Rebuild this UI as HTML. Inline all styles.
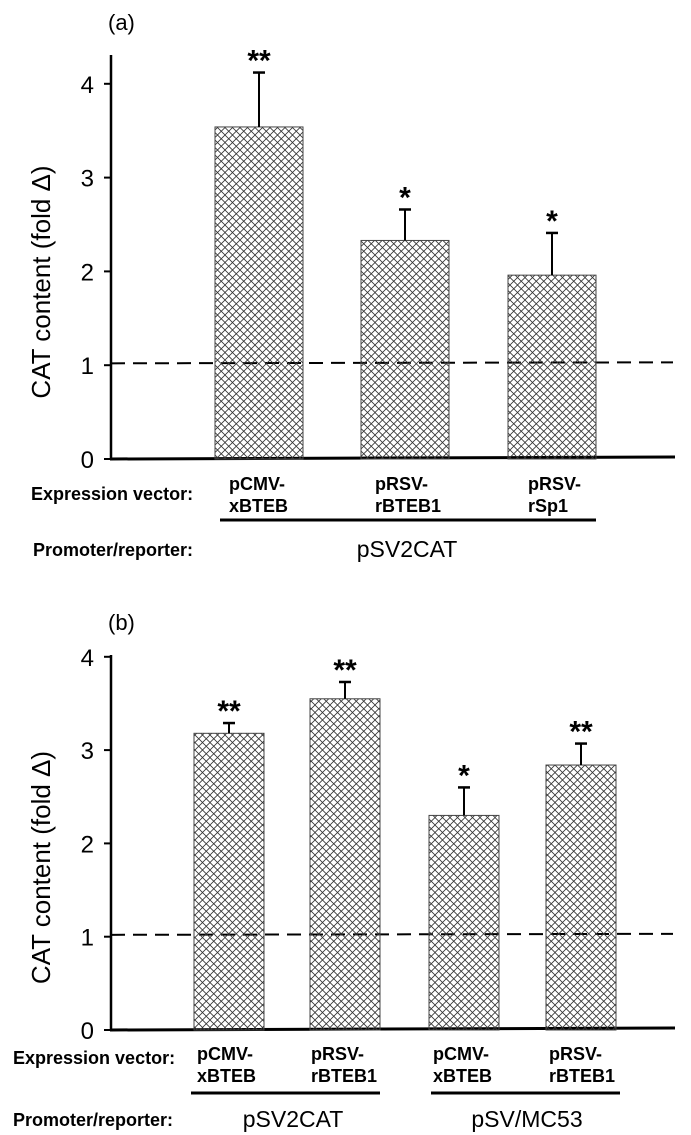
<!DOCTYPE html>
<html><head><meta charset="utf-8">
<style>
html,body{margin:0;padding:0;background:#fff;}
svg{display:block;font-family:"Liberation Sans",Arial,sans-serif;}
</style></head>
<body>
<svg id="chart" width="691" height="1135" viewBox="0 0 691 1135" xmlns="http://www.w3.org/2000/svg">
<defs>
<pattern id="hatch" width="7.5" height="7.5" patternUnits="userSpaceOnUse">
<path d="M0,0 L7.5,7.5 M7.5,0 L0,7.5" stroke="#333" stroke-width="0.8" fill="none"/>
</pattern>
</defs>
</svg>
<script>
// Panel (a) data
const catsA = ["pCMV-xBTEB", "pRSV-rBTEB1", "pRSV-rSp1"];
const valsA = [3.54, 2.33, 1.96];
const errsA = [4.12, 2.66, 2.41];
const sigA = ["**", "*", "*"];
const ticksA = [0, 1, 2, 3, 4];
// Panel (b) data
const catsB = ["pCMV-xBTEB", "pRSV-rBTEB1", "pCMV-xBTEB", "pRSV-rBTEB1"];
const valsB = [3.18, 3.55, 2.30, 2.84];
const errsB = [3.29, 3.73, 2.60, 3.07];
const sigB = ["**", "**", "*", "**"];
const ticksB = [0, 1, 2, 3, 4];
const refLine = 1.02;

const NS = "http://www.w3.org/2000/svg";
const svg = document.getElementById("chart");
function mk(tag, attrs, parent) {
  const e = document.createElementNS(NS, tag);
  for (const k in attrs) e.setAttribute(k, attrs[k]);
  (parent || svg).appendChild(e);
  return e;
}
function txt(s, attrs, parent) { const t = mk("text", attrs, parent); t.textContent = s; return t; }

function panel(cfg) {
  const g = mk("g", {});
  
  
  const y = v => cfg.y0 - v * cfg.unit;
  const ax = mk("line", {x1: cfg.ax, y1: cfg.top, x2: cfg.ax, y2: cfg.y0, stroke: "#000", "stroke-width": 2.5}, g);
  
  
  const bl = mk("line", {x1: cfg.ax - 1, y1: cfg.y0, x2: 675, y2: cfg.y0 - 2, stroke: "#000", "stroke-width": 3}, g);
  
  
  cfg.ticks.forEach(t => {
    const tk = mk("line", {x1: cfg.ax - 7, y1: y(t), x2: cfg.ax, y2: y(t), stroke: "#000", "stroke-width": 2}, g);
    
    
    const tl = txt(String(t), {x: 94, y: y(t) + 9, "font-size": 24, "text-anchor": "end"}, g);
    
    
  });
  const dl = mk("line", {x1: cfg.ax, y1: y(refLine), x2: 673, y2: y(refLine) - 1, stroke: "#000", "stroke-width": 2, "stroke-dasharray": "14,8"}, g);
  
  
  cfg.vals.forEach((v, i) => {
    const x = cfg.barX[i];
    const cx = x + cfg.bw / 2;
    const b = mk("rect", {x: x, y: y(v), width: cfg.bw, height: cfg.y0 - y(v), fill: "url(#hatch)", stroke: "#444", "stroke-width": 1}, g);
    
    
    const e1 = mk("line", {x1: cx, y1: y(v), x2: cx, y2: y(cfg.errs[i]), stroke: "#000", "stroke-width": 2}, g);
    
    
    const e2 = mk("line", {x1: cx - 6, y1: y(cfg.errs[i]), x2: cx + 6, y2: y(cfg.errs[i]), stroke: "#000", "stroke-width": 2.5}, g);
    
    
    const s = txt(cfg.sig[i], {x: cx, y: y(cfg.errs[i]) - 2, "font-size": 30, "font-weight": "bold", "text-anchor": "middle"}, g);
    
    
  });
  const cy = (cfg.top + cfg.y0) / 2 + 25;
  const yt = txt("CAT content (fold \u0394)", {x: 0, y: 0, "font-size": 26, "text-anchor": "middle", transform: "translate(50," + cy + ") rotate(-90)"}, g);
  
  
  const pl = txt(cfg.label, {x: 108, y: cfg.labelY, "font-size": 22}, g);
  
  
  return g;
}

const gA = panel({name: "panel-a", ax: 111, top: 55, y0: 459, unit: 93.8, ticks: ticksA, vals: valsA, errs: errsA, sig: sigA,
  barX: [215, 361, 508], bw: 88, label: "(a)", labelY: 30});
const gB = panel({name: "panel-b", ax: 111, top: 655, y0: 1030, unit: 93.3, ticks: ticksB, vals: valsB, errs: errsB, sig: sigB,
  barX: [194, 310, 429, 546], bw: 70, label: "(b)", labelY: 630});

function label(s, x, yy, attrs, name) {
  const a = Object.assign({x: x, y: yy, "font-size": 18, "font-weight": "bold"}, attrs || {});
  const t = txt(s, a);
  
  
  return t;
}
function uline(x1, x2, yy) {
  const l = mk("line", {x1: x1, y1: yy, x2: x2, y2: yy, stroke: "#000", "stroke-width": 3});
  
  
}
label("Expression vector:", 31, 500, {}, "expression-vector-label");
const axA = [229, 375, 528];
catsA.forEach((c, i) => {
  const parts = c.split("-");
  label(parts[0] + "-", axA[i], 490, {}, "category-label");
  label(parts[1], axA[i], 512, {}, "category-label");
});
uline(220, 596, 520);
label("Promoter/reporter:", 33, 556, {}, "promoter-reporter-label");
label("pSV2CAT", 407, 557, {"font-weight": "normal", "font-size": 23, "text-anchor": "middle"}, "promoter-name");

label("Expression vector:", 13, 1064, {}, "expression-vector-label");
const axB = [197, 311, 433, 549];
catsB.forEach((c, i) => {
  const parts = c.split("-");
  label(parts[0] + "-", axB[i], 1060, {}, "category-label");
  label(parts[1], axB[i], 1082, {}, "category-label");
});
uline(191, 380, 1093);
uline(431, 620, 1093);
label("Promoter/reporter:", 13, 1126, {}, "promoter-reporter-label");
label("pSV2CAT", 293, 1127, {"font-weight": "normal", "font-size": 23, "text-anchor": "middle"}, "promoter-name");
label("pSV/MC53", 527, 1127, {"font-weight": "normal", "font-size": 23, "text-anchor": "middle"}, "promoter-name");
</script>
</body></html>
